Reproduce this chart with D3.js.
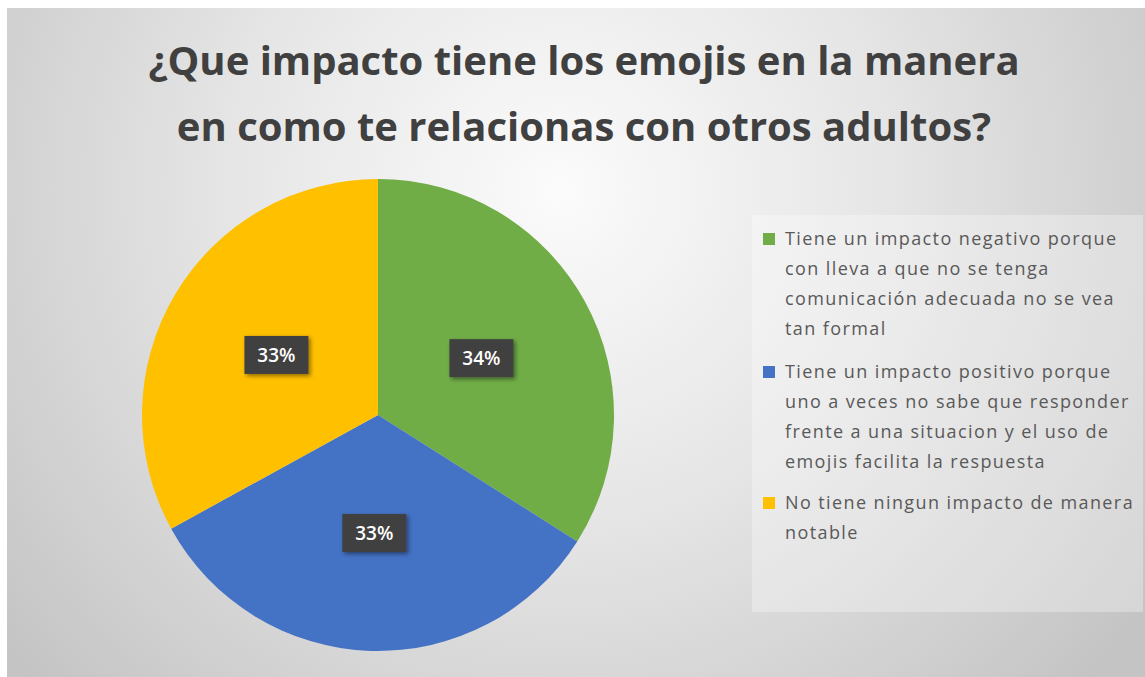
<!DOCTYPE html>
<html>
<head>
<meta charset="utf-8">
<script src="https://cdn.jsdelivr.net/npm/d3@7"></script>
<style>
  html, body { margin: 0; padding: 0; background: #fff; }
  svg { display: block; }
</style>
</head>
<body>
<svg id="chart" width="1145" height="677"></svg>
<script>
// chart data
const titleLines = ["¿Que impacto tiene los emojis en la manera", "en como te relacionas con otros adultos?"];
const categories = [
  "Tiene un impacto negativo porque con lleva a que no se tenga comunicación adecuada no se vea tan formal",
  "Tiene un impacto positivo porque uno a veces no sabe que responder frente a una situacion y el uso de emojis facilita la respuesta",
  "No tiene ningun impacto de manera notable"
];
// how the legend wraps each category
const legendLines = [
  ["Tiene un impacto negativo porque", "con lleva a que no se tenga", "comunicación adecuada no se vea", "tan formal"],
  ["Tiene un impacto positivo porque", "uno a veces no sabe que responder", "frente a una situacion y el uso de", "emojis facilita la respuesta"],
  ["No tiene ningun impacto de manera", "notable"]
];
const values = [34, 33, 33];
const colors = ["#70AD47", "#4472C4", "#FFC000"];

const svg = d3.select("#chart");
const W = 1145, H = 677;

// background: soft radial grey gradient
const defs = svg.append("defs");
const grad = defs.append("radialGradient")
  .attr("id", "bg")
  .attr("gradientUnits", "userSpaceOnUse")
  .attr("cx", 560).attr("cy", 190).attr("r", 720);
grad.append("stop").attr("offset", "0%").attr("stop-color", "#fbfbfb");
grad.append("stop").attr("offset", "45%").attr("stop-color", "#e6e6e6");
grad.append("stop").attr("offset", "100%").attr("stop-color", "#c4c4c4");

const shadow = defs.append("filter").attr("id", "shadow")
  .attr("x", "-30%").attr("y", "-30%").attr("width", "160%").attr("height", "160%");
shadow.append("feDropShadow")
  .attr("dx", 2).attr("dy", 2).attr("stdDeviation", 2)
  .attr("flood-color", "#000").attr("flood-opacity", 0.45);

svg.append("rect")
  .attr("x", 7).attr("y", 8)
  .attr("width", W - 7).attr("height", H - 8)
  .attr("fill", "url(#bg)");

// title
svg.append("g").selectAll("text")
  .data(titleLines)
  .join("text")
  .attr("x", 584)
  .attr("y", (d, i) => 75 + i * 66)
  .attr("text-anchor", "middle")
  .attr("font-family", "'Open Sans', sans-serif")
  .attr("font-weight", 700)
  .attr("font-size", 40)
  .attr("fill", "#404040")
  .text(d => d);

// pie
const cx = 378, cy = 415, r = 236;
const pie = d3.pie().sort(null).value(d => d);
const arcs = pie(values);
const arc = d3.arc().innerRadius(0).outerRadius(r);
const labelArc = d3.arc().innerRadius(r * 0.5).outerRadius(r * 0.5);

const g = svg.append("g").attr("transform", `translate(${cx},${cy})`);
g.selectAll("path")
  .data(arcs)
  .join("path")
  .attr("d", arc)
  .attr("fill", (d, i) => colors[i]);

const total = d3.sum(values);
const lbl = g.selectAll("g.lbl")
  .data(arcs)
  .join("g")
  .attr("class", "lbl")
  .attr("transform", d => `translate(${labelArc.centroid(d)})`);
lbl.append("rect")
  .attr("x", -32).attr("y", -19)
  .attr("width", 64).attr("height", 38)
  .attr("fill", "#404040")
  .attr("filter", "url(#shadow)");
lbl.append("text")
  .attr("text-anchor", "middle")
  .attr("dy", "0.35em")
  .attr("font-family", "'Open Sans', sans-serif")
  .attr("font-weight", 600)
  .attr("font-size", 19)
  .attr("fill", "#fff")
  .text(d => d3.format(".0%")(d.value / total));

// legend
svg.append("rect")
  .attr("x", 752).attr("y", 215)
  .attr("width", 391).attr("height", 397)
  .attr("fill", "#ffffff").attr("fill-opacity", 0.3);

const legendTop = [239, 372, 503];
const leg = svg.append("g").selectAll("g")
  .data(categories)
  .join("g")
  .attr("transform", (d, i) => `translate(763,${legendTop[i]})`);
leg.append("rect")
  .attr("x", 0).attr("y", -6)
  .attr("width", 12).attr("height", 12)
  .attr("fill", (d, i) => colors[i]);
leg.append("text")
  .attr("font-family", "'Open Sans', sans-serif")
  .attr("font-size", 18)
  .attr("letter-spacing", 1.4)
  .attr("fill", "#595959")
  .selectAll("tspan")
  .data((d, i) => legendLines[i])
  .join("tspan")
  .attr("x", 22)
  .attr("y", (d, j) => j * 30)
  .attr("dy", "0.35em")
  .text(d => d);
</script>
</body>
</html>
